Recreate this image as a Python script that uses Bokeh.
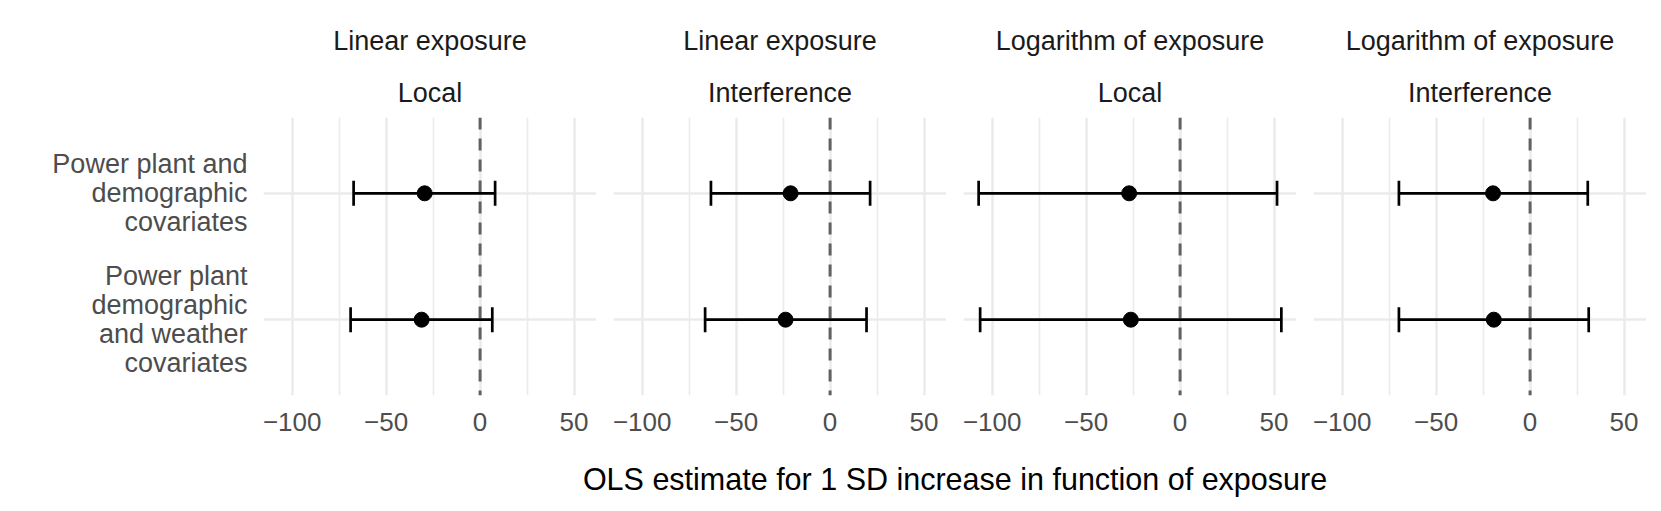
from bokeh.plotting import figure
from bokeh.models import (FactorRange, Range1d, FixedTicker, Span, Whisker,
                          TeeHead, ColumnDataSource, Title)
from bokeh.layouts import row, column
from bokeh.embed import file_html
from bokeh.resources import INLINE

# ---------------- data ----------------
transforms = ["Linear exposure", "Linear exposure",
              "Logarithm of exposure", "Logarithm of exposure"]
scales = ["Local", "Interference", "Local", "Interference"]
models = ["Power plant and\ndemographic\ncovariates",
          "Power plant\ndemographic\nand weather\ncovariates"]
est_p1 = [-29.5, -31.1]
lo_p1 = [-67.3, -68.9]
hi_p1 = [8.0, 6.5]
est_p2 = [-21.0, -23.7]
lo_p2 = [-63.4, -66.5]
hi_p2 = [21.3, 19.4]
est_p3 = [-27.1, -26.2]
lo_p3 = [-107.2, -106.4]
hi_p3 = [51.6, 53.9]
est_p4 = [-19.7, -19.3]
lo_p4 = [-69.8, -69.8]
hi_p4 = [30.7, 31.2]
x_ticks = [-100, -50, 0, 50]
x_minor = [-75, -25, 25]
tick_labels = ["\u2212100", "\u221250", "0", "50"]
x_title = "OLS estimate for 1 SD increase in function of exposure"

estimates = [est_p1, est_p2, est_p3, est_p4]
lowers = [lo_p1, lo_p2, lo_p3, lo_p4]
uppers = [hi_p1, hi_p2, hi_p3, hi_p4]

# shared x scale with 5% expansion (ggplot default)
all_lo = min(min(l) for l in lowers)
all_hi = max(max(h) for h in uppers)
pad = 0.05 * (all_hi - all_lo)
x_start, x_end = all_lo - pad, all_hi + pad

FONT = "Liberation Sans"
GRID = "#EBEBEB"

figs = []
for i in range(4):
    first = (i == 0)
    src = ColumnDataSource(dict(model=models, est=estimates[i],
                                lo=lowers[i], hi=uppers[i]))
    p = figure(
        x_range=Range1d(x_start, x_end),
        y_range=FactorRange(factors=list(reversed(models)),
                            range_padding=0.1, range_padding_units="absolute"),
        frame_width=333, frame_height=278,
        min_border_left=263 if first else 17, min_border_right=0,
        min_border_top=117, min_border_bottom=53,
        y_axis_location="left" if first else None,
        toolbar_location=None, output_backend="svg", title=None,
    )
    p.outline_line_color = None
    p.background_fill_color = "white"
    p.border_fill_color = "white"

    # strip labels
    p.add_layout(Title(text=scales[i], align="center", vertical_align="middle",
                       text_font=FONT, text_font_size="27px",
                       text_font_style="normal", text_color="#1A1A1A",
                       standoff=18), "above")
    p.add_layout(Title(text=transforms[i], align="center", vertical_align="middle",
                       text_font=FONT, text_font_size="27px",
                       text_font_style="normal", text_color="#1A1A1A",
                       standoff=21), "above")

    # x axis
    ax = p.xaxis[0]
    ax.ticker = FixedTicker(ticks=x_ticks, minor_ticks=x_minor)
    ax.major_label_overrides = {t: l for t, l in zip(x_ticks, tick_labels)}
    ax.axis_line_color = None
    ax.major_tick_line_color = None
    ax.minor_tick_line_color = None
    ax.major_label_standoff = 11
    ax.major_label_text_font = FONT
    ax.major_label_text_font_size = "26px"
    ax.major_label_text_color = "#4D4D4D"

    if first:
        ay = p.yaxis[0]
        ay.axis_line_color = None
        ay.major_tick_line_color = None
        ay.minor_tick_line_color = None
        ay.major_label_standoff = 10
        ay.major_label_text_font = FONT
        ay.major_label_text_font_size = "27px"
        ay.major_label_text_color = "#4D4D4D"
        ay.major_label_text_line_height = 0.97

    p.xgrid.grid_line_color = GRID
    p.xgrid.grid_line_width = 2.5
    p.xgrid.minor_grid_line_color = GRID
    p.xgrid.minor_grid_line_width = 1.6
    p.ygrid.grid_line_color = GRID
    p.ygrid.grid_line_width = 2.5

    zero = Span(location=0, dimension="height", line_color="#616161",
                line_width=3, line_dash="12 9", level="underlay")
    p.add_layout(zero)

    wh = Whisker(base="model", lower="lo", upper="hi", dimension="width",
                 source=src, line_color="black", line_width=2.7,
                 lower_head=TeeHead(size=25, line_color="black", line_width=2.7),
                 upper_head=TeeHead(size=25, line_color="black", line_width=2.7))
    p.add_layout(wh)
    p.scatter(x="est", y="model", source=src, size=15, color="black")
    figs.append(p)

# shared axis title
tf = figure(width=1646, height=55, min_border_left=263, min_border_right=0,
            min_border_top=47, min_border_bottom=0,
            x_axis_type=None, y_axis_type=None, toolbar_location=None,
            output_backend="svg", title=None)
tf.outline_line_color = None
tf.grid.visible = False
tf.add_layout(Title(text=x_title, align="center", text_font=FONT,
                    text_font_size="30.5px", text_font_style="normal",
                    text_color="black", standoff=0), "above")

layout = column(row(*figs), tf)
open("out.html", "w").write(file_html(layout, INLINE))
